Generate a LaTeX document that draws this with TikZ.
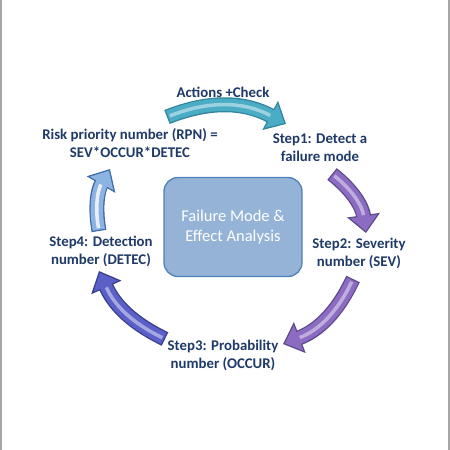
\documentclass[tikz,border=0pt]{standalone}
\usepackage{fontspec}
\setmainfont{Carlito}
\usetikzlibrary{arrows.meta}
\definecolor{ink}{HTML}{1F3A68}
\definecolor{frame}{HTML}{A6A6A6}
\definecolor{box}{HTML}{95B3D7}
\definecolor{boxedge}{HTML}{4F81BD}
\definecolor{chk}{HTML}{4BACC6}
\definecolor{chkedge}{HTML}{31849B}
\definecolor{sev}{HTML}{8B6CC2}
\definecolor{sevedge}{HTML}{5C4A8A}
\definecolor{occ}{HTML}{5A60C8}
\definecolor{occedge}{HTML}{383D8C}
\definecolor{det}{HTML}{8DB3E2}
\definecolor{detedge}{HTML}{3E6CA8}

\begin{document}
\begin{tikzpicture}[x=1pt,y=-1pt,
  lbl/.style={font=\fontsize{14.8}{18}\selectfont\bfseries,text=ink,align=center,inner sep=0pt},
  hub/.style={draw=boxedge,line width=1.3pt,fill=box,rounded corners=14pt,minimum width=138pt,minimum height=99pt,
    text=white,align=center,font=\fontsize{16.5}{19.5}\selectfont},
  arrout/.style={line width=15pt,draw=#1,-{Triangle[length=18pt,width=32pt]}},
  arrin/.style={line width=12.4pt,draw=#1,shorten <=1.3pt,shorten >=2pt,-{Triangle[length=14.7pt,width=26.1pt]}},
  gloss/.style={line width=3.5pt,draw=white,opacity=0.45,shorten <=3pt,shorten >=18pt}]
  \fill[white] (0,0) rectangle (450,450);
  \useasboundingbox (0,0) rectangle (450,450);
  \draw[frame,line width=2pt] (1,0) -- (1,450) (449,0) -- (449,450);

  % ===== labels =====
  \node[lbl] (check) at (223,92) {Actions +Check};
  \node[lbl] (rpn) at (130,143) {Risk priority number (RPN) =\\SEV*OCCUR*DETEC};
  \node[lbl] (step1) at (320,148) {Step1: Detect a\\failure mode};
  \node[lbl] (step2) at (359,253) {Step2: Severity\\number (SEV)};
  \node[lbl] (step3) at (223,355) {Step3: Probability\\number (OCCUR)};
  \node[lbl] (step4) at (101,251) {Step4: Detection\\number (DETEC)};
  \node[hub] (fmea) at (233,227) {Failure Mode \&\\Effect Analysis};

  % ===== arrow ends =====
  \coordinate (chkA) at (167,117); \coordinate (chkB) at (286,124);
  \coordinate (sevA) at (332,174); \coordinate (sevB) at (366,233);
  \coordinate (occA) at (353,279); \coordinate (occB) at (283,344);
  \coordinate (detA) at (165,339); \coordinate (detB) at (99,271);
  \coordinate (rpnA) at (99,231); \coordinate (rpnB) at (110,169);

  % ===== block arrows =====
  \draw[arrout=chkedge] (chkA) to[bend left=25] (chkB);
  \draw[arrin=chk] (chkA) to[bend left=25] (chkB);
  \draw[gloss] (chkA) to[bend left=25] (chkB);
  \draw[arrout=sevedge] (sevA) to[bend left=22] (sevB);
  \draw[arrin=sev] (sevA) to[bend left=22] (sevB);
  \draw[gloss] (sevA) to[bend left=22] (sevB);
  \draw[arrout=sevedge] (occA) to[bend left=22] (occB);
  \draw[arrin=sev] (occA) to[bend left=22] (occB);
  \draw[gloss] (occA) to[bend left=22] (occB);
  \draw[arrout=occedge] (detA) to[bend left=20] (detB);
  \draw[arrin=occ] (detA) to[bend left=20] (detB);
  \draw[gloss] (detA) to[bend left=20] (detB);
  \draw[arrout=detedge] (rpnA) to[bend left=20] (rpnB);
  \draw[arrin=det] (rpnA) to[bend left=20] (rpnB);
  \draw[gloss,opacity=0.8] (rpnA) to[bend left=20] (rpnB);
\end{tikzpicture}
\end{document}
